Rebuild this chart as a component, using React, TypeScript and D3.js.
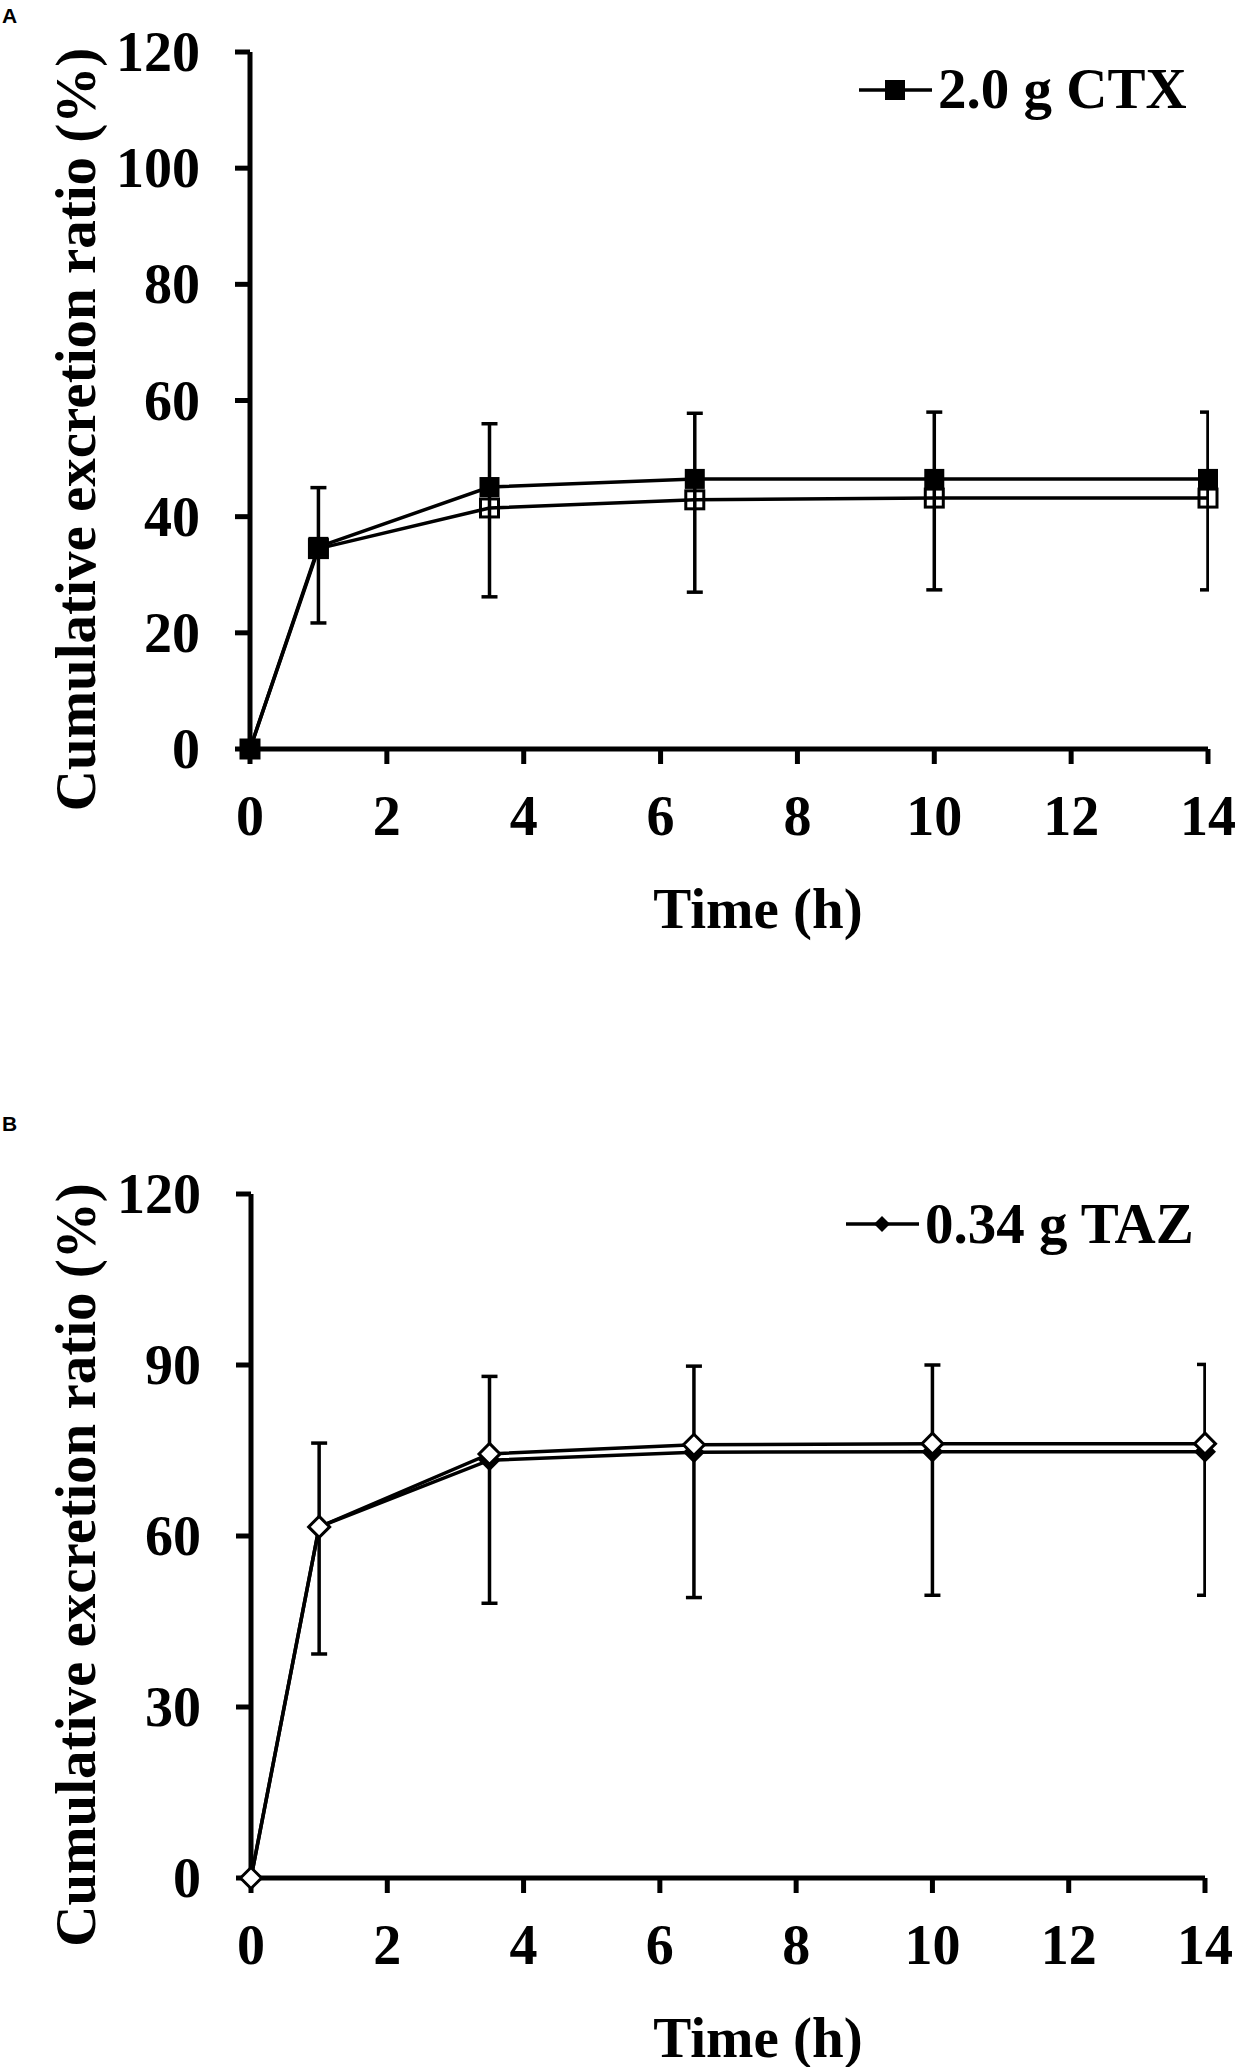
import React from "react";
import * as d3 from "d3";

// time points (h)
const timePoints = [0, 1, 3.5, 6.5, 10, 14];
const xTickValues = [0, 2, 4, 6, 8, 10, 12, 14];

// panel A: 2.0 g CTX
const ctxFilled = [0, 34.8, 45.1, 46.5, 46.5, 46.5];
const ctxOpen = [0, 34.5, 41.5, 42.9, 43.2, 43.2];
const ctxErrHigh = [null, 45.0, 56.0, 57.8, 58.0, 58.0];
const ctxErrLow = [null, 21.7, 26.2, 27.0, 27.4, 27.4];
const ctxYTicks = [0, 20, 40, 60, 80, 100, 120];

// panel B: 0.34 g TAZ
const tazFilled = [0, 61.6, 73.3, 74.7, 74.8, 74.8];
const tazOpen = [0, 61.6, 74.4, 76.0, 76.2, 76.2];
const tazErrHigh = [null, 76.3, 88.0, 89.8, 90.0, 90.1];
const tazErrLow = [null, 39.3, 48.2, 49.2, 49.6, 49.6];
const tazYTicks = [0, 30, 60, 90, 120];

const SERIF = "'Liberation Serif', 'Times New Roman', serif";

interface PanelProps {
  id: string;
  letter: string;
  letterY: number;
  x0: number;
  x1: number;
  yTop: number;
  yBottom: number;
  yTicks: number[];
  filled: number[];
  open: number[];
  errHigh: (number | null)[];
  errLow: (number | null)[];
  marker: "square" | "diamond";
  legendLabel: string;
  legendLineY: number;
  legendTextY: number;
  legendX: number;
};

const diamondPath = (x: number, y: number, r: number) =>
  `M${x},${y - r}L${x + r},${y}L${x},${y + r}L${x - r},${y}Z`;

const Panel = (p: PanelProps) => {
  const xScale = d3.scaleLinear().domain([0, 14]).range([p.x0, p.x1]);
  const yScale = d3.scaleLinear().domain([0, 120]).range([p.yBottom, p.yTop]);

  const line = d3
    .line<number>()
    .x((_, i) => xScale(timePoints[i]))
    .y((d) => yScale(d));

  const tickLen = 15;
  const capHalf = 8;

  const errorBars = timePoints.map((t, i) => {
    const hi = p.errHigh[i];
    const lo = p.errLow[i];
    if (hi == null || lo == null) return null;
    const cx = xScale(t);
    return (
      <g key={`err/${i}`} stroke="#000" strokeWidth={3.5}>
        <line x1={cx} x2={cx} y1={yScale(hi)} y2={yScale(lo)} />
        <line x1={cx - capHalf} x2={cx + capHalf} y1={yScale(hi)} y2={yScale(hi)} />
        <line x1={cx - capHalf} x2={cx + capHalf} y1={yScale(lo)} y2={yScale(lo)} />
      </g>
    );
  });

  const filledMarkers = timePoints.map((t, i) => {
    const cx = xScale(t);
    const cy = yScale(p.filled[i]);
    return p.marker === "square" ? (
      <rect key={`f/${i}`} x={cx - 10} y={cy - 10} width={20} height={20} fill="#000" />
    ) : (
      <path key={`f/${i}`} d={diamondPath(cx, cy, 11)} fill="#000" />
    );
  });

  const openMarkers = timePoints.map((t, i) => {
    const cx = xScale(t);
    const cy = yScale(p.open[i]);
    return p.marker === "square" ? (
      <rect key={`o/${i}`} x={cx - 9} y={cy - 9} width={18} height={18} fill="none" stroke="#000" strokeWidth={3} />
    ) : (
      <path key={`o/${i}`} d={diamondPath(cx, cy, 10.5)} fill="#fff" stroke="#000" strokeWidth={3} />
    );
  });

  return (
    <g>
      <text x={2} y={p.letterY} fontFamily="'Liberation Sans', Arial, sans-serif" fontWeight="bold" fontSize={21}>
        {p.letter}
      </text>

      <defs>
        <clipPath id={`clip-${p.id}`}>
          <rect x={0} y={0} width={p.x1 + 1} height={2067} />
        </clipPath>
      </defs>

      {/* axes */}
      <g stroke="#000" strokeWidth={5}>
        <line x1={p.x0} x2={p.x0} y1={p.yTop} y2={p.yBottom} />
        <line x1={p.x0} x2={p.x1} y1={p.yBottom} y2={p.yBottom} />
        {p.yTicks.map((v) => (
          <line key={`yt/${v}`} x1={p.x0 - tickLen} x2={p.x0} y1={yScale(v)} y2={yScale(v)} />
        ))}
        {xTickValues.map((v) => (
          <line key={`xt/${v}`} x1={xScale(v)} x2={xScale(v)} y1={p.yBottom} y2={p.yBottom + tickLen} />
        ))}
      </g>

      <g fontFamily={SERIF} fontWeight="bold" fontSize={56} fill="#000">
        {p.yTicks.map((v) => (
          <text key={`yl/${v}`} x={p.x0 - 50} y={yScale(v)} dy="0.34em" textAnchor="end">
            {v}
          </text>
        ))}
        {xTickValues.map((v) => (
          <text key={`xl/${v}`} x={xScale(v)} y={p.yBottom + 86} textAnchor="middle">
            {v}
          </text>
        ))}
        <text x={758} y={p.yBottom + 179} textAnchor="middle" fontSize={57}>
          Time (h)
        </text>
        <text
          transform={`translate(95, ${(p.yTop + p.yBottom) / 2 + 29}) rotate(-90)`}
          textAnchor="middle"
          fontSize={57}
        >
          Cumulative excretion ratio (%)
        </text>
      </g>

      {/* series */}
      <path d={line(p.filled) ?? ""} fill="none" stroke="#000" strokeWidth={3.5} />
      <path d={line(p.open) ?? ""} fill="none" stroke="#000" strokeWidth={3.5} />
      <g clipPath={`url(#clip-${p.id})`}>{errorBars}</g>
      {filledMarkers}
      {openMarkers}

      {/* legend */}
      <line x1={p.legendX} x2={p.legendX + 73} y1={p.legendLineY} y2={p.legendLineY} stroke="#000" strokeWidth={3.5} />
      {p.marker === "square" ? (
        <rect x={p.legendX + 36 - 10} y={p.legendLineY - 10} width={20} height={20} fill="#000" />
      ) : (
        <path d={diamondPath(p.legendX + 36, p.legendLineY, 8)} fill="#000" />
      )}
      <text
        x={p.legendX + 79}
        y={p.legendTextY}
        fontFamily={SERIF}
        fontWeight="bold"
        fontSize={57}
      >
        {p.legendLabel}
      </text>
    </g>
  );
};

export default function App() {
  return (
    <svg
      width={1238}
      height={2067}
      style={{ position: "absolute", left: 0, top: 0, background: "#fff" }}
    >
      <rect x={0} y={0} width={1238} height={2067} fill="#fff" />
      <Panel
        id="a"
        letter="A"
        letterY={23}
        x0={250}
        x1={1208}
        yTop={52}
        yBottom={749}
        yTicks={ctxYTicks}
        filled={ctxFilled}
        open={ctxOpen}
        errHigh={ctxErrHigh}
        errLow={ctxErrLow}
        marker="square"
        legendLabel="2.0 g CTX"
        legendLineY={90}
        legendTextY={108}
        legendX={859}
      />
      <Panel
        id="b"
        letter="B"
        letterY={1131}
        x0={251}
        x1={1205}
        yTop={1194}
        yBottom={1878}
        yTicks={tazYTicks}
        filled={tazFilled}
        open={tazOpen}
        errHigh={tazErrHigh}
        errLow={tazErrLow}
        marker="diamond"
        legendLabel="0.34 g TAZ"
        legendLineY={1224}
        legendTextY={1243}
        legendX={846}
      />
    </svg>
  );
}
